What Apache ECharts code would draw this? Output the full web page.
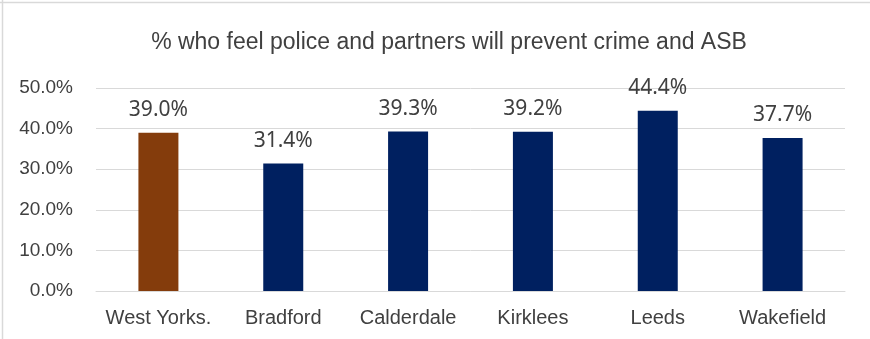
<!DOCTYPE html>
<html>
<head>
<meta charset="utf-8">
<script src="https://cdn.jsdelivr.net/npm/echarts@6/dist/echarts.min.js"></script>
<style>
  html, body { margin: 0; padding: 0; background: #fff; }
  #chart { width: 870px; height: 339px; }
</style>
</head>
<body>
<div id="chart"></div>
<script>
const title = '% who feel police and partners will prevent crime and ASB'
const categories = ['West Yorks.', 'Bradford', 'Calderdale', 'Kirklees', 'Leeds', 'Wakefield']
const values = [39.0, 31.4, 39.3, 39.2, 44.4, 37.7]
const barColors = ['#843C0C', '#002060', '#002060', '#002060', '#002060', '#002060']

const SANS = "'Liberation Sans', Arial, sans-serif"

const chart = echarts.init(document.getElementById('chart'), null, { renderer: 'canvas' })

chart.setOption({
  animation: false,
  title: {
    text: title,
    left: 444,
    textAlign: 'center',
    top: 26,
    textStyle: { color: '#404040', fontFamily: SANS, fontSize: 23, fontWeight: 'normal' },
  },
  graphic: [
    { type: 'line', shape: { x1: 0, y1: 2.5, x2: 870, y2: 2.5 }, style: { stroke: '#d9d9d9', lineWidth: 1.5 } },
    { type: 'line', shape: { x1: 2.5, y1: 0, x2: 2.5, y2: 339 }, style: { stroke: '#d9d9d9', lineWidth: 1.5 } },
  ],
  grid: { left: 96, right: 25, top: 88, bottom: 48, containLabel: false },
  xAxis: {
    type: 'category',
    data: categories,
    axisLine: { lineStyle: { color: '#d9d9d9', width: 1 } },
    axisTick: { show: false },
    axisLabel: { color: '#404040', fontFamily: SANS, fontSize: 20, margin: 17, interval: 0 },
  },
  yAxis: {
    type: 'value',
    min: 0,
    max: 50,
    interval: 10,
    axisLine: { show: false },
    axisTick: { show: false },
    axisLabel: {
      color: '#404040',
      fontFamily: SANS,
      fontSize: 19,
      margin: 23,
      formatter: v => v.toFixed(1) + '%',
    },
    splitLine: { lineStyle: { color: '#d9d9d9', width: 1 } },
  },
  series: [{
    type: 'bar',
    data: values.map((v, i) => ({ value: v, itemStyle: { color: barColors[i] } })),
    barWidth: 40,
    label: {
      show: true,
      position: 'top',
      distance: 12,
      color: '#404040',
      fontFamily: "'Noto Sans', 'Open Sans', sans-serif",
      fontSize: 21,
      formatter: p => p.value.toFixed(1) + '%',
    },
  }],
})
</script>
</body>
</html>
